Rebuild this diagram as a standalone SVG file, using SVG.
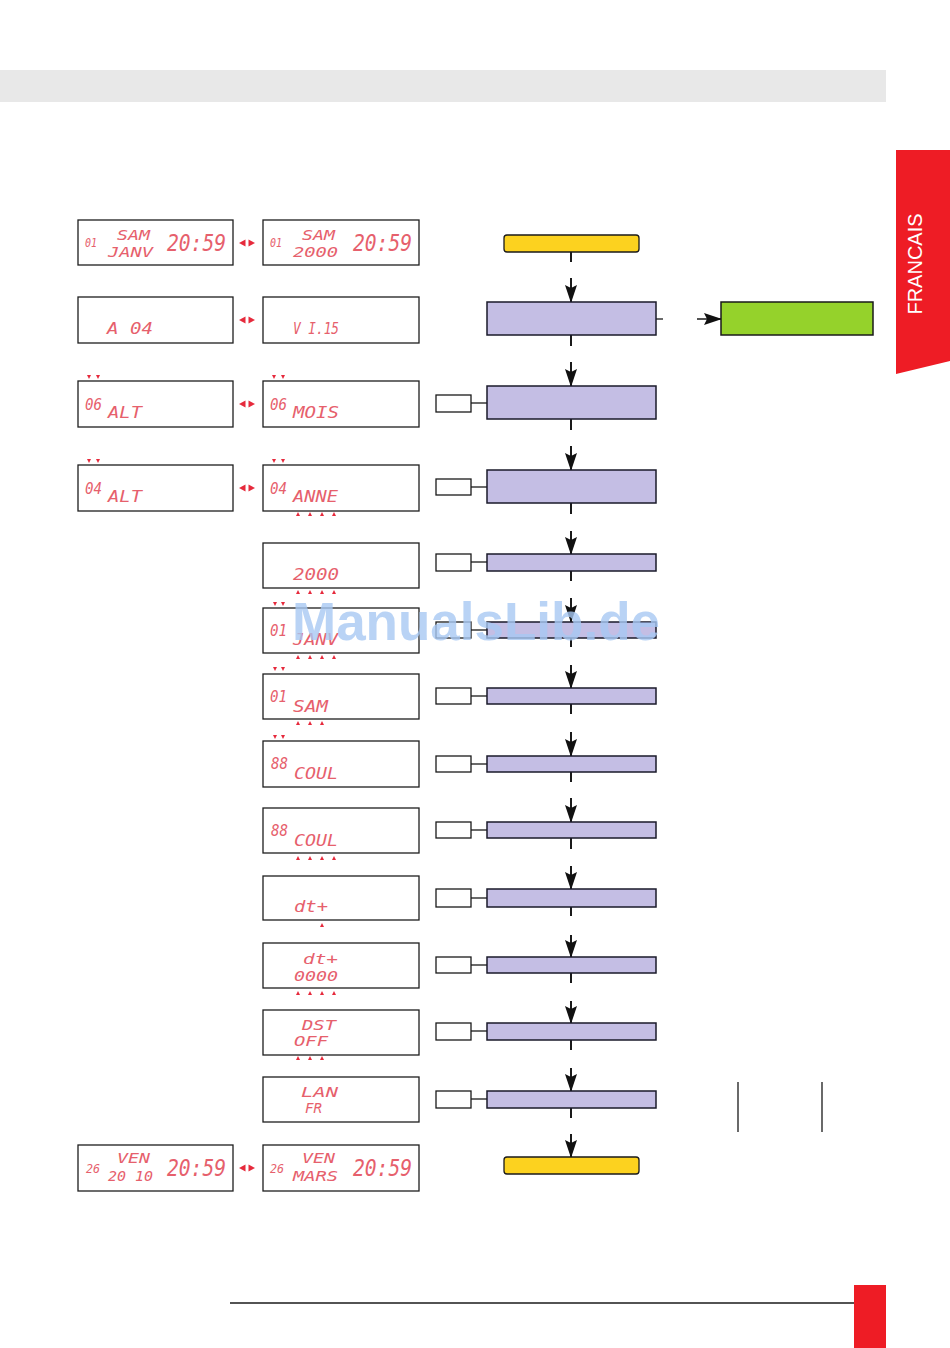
<svg xmlns="http://www.w3.org/2000/svg" xmlns:xlink="http://www.w3.org/1999/xlink" width="950" height="1348" viewBox="0 0 950 1348">
<style>
.disp{fill:#fff;stroke:#1e1e1e;stroke-width:1.3}
.led{font-family:"DejaVu Sans Mono","Liberation Mono",monospace;font-style:italic;fill:#e6606c;font-size:16px}
.two{font-size:14px}
.big{font-size:23px}
.sm{font-size:12px}
.proc{fill:#c4bee4;stroke:#1a1a2a;stroke-width:1.5}
.term{fill:#fcd21f;stroke:#1a1a1a;stroke-width:1.3}
.side{fill:#fff;stroke:#1a1a1a;stroke-width:1.3}
.conn{stroke:#1a1a1a;stroke-width:2;fill:none}
.thin{stroke:#1a1a1a;stroke-width:1.3;fill:none}
.tri{fill:#e62a3c}
</style>
<defs>
<marker id="ah" viewBox="0 0 18 12" refX="17" refY="6" markerWidth="18" markerHeight="12" markerUnits="userSpaceOnUse" orient="auto">
<path d="M0,0 L18,6 L0,12 L3,6 z" fill="#111"/>
</marker>
<path id="td" class="tri" d="M-2,-2 L2,-2 L0,2 z"/>
<path id="tu" class="tri" d="M-2,2 L2,2 L0,-2 z"/>
<g id="lr" class="tri"><path d="M-8,0 L-1.5,-3.5 L-1.5,3.5 z"/><path d="M1.5,-3.5 L8,0 L1.5,3.5 z"/></g>
</defs>

<rect x="0" y="70" width="886" height="32" fill="#e8e8e8"/>
<g id="tab">
<polygon points="896,150 950,150 950,361 896,374" fill="#ee1c25"/>
<text x="922" y="264" transform="rotate(-90 922 264)" text-anchor="middle" font-family="Liberation Sans, Arial, sans-serif" font-size="20" fill="#fff">FRANCAIS</text>
</g>
<line x1="230" y1="1303" x2="854" y2="1303" stroke="#1a1a1a" stroke-width="1.3"/>
<rect x="854" y="1285" width="32" height="63" fill="#ee1c25"/>

<!-- displays -->
<g id="d1a"><rect class="disp" x="78" y="220" width="155" height="45"/>
<text class="led sm" x="85" y="247" textLength="12" lengthAdjust="spacingAndGlyphs">01</text>
<text class="led two" x="117" y="240" textLength="33" lengthAdjust="spacingAndGlyphs">SAM</text>
<text class="led two" x="108" y="257" textLength="45" lengthAdjust="spacingAndGlyphs">JANV</text>
<text class="led big" x="167" y="251" textLength="59" lengthAdjust="spacingAndGlyphs">20:59</text></g>
<g id="d1b"><rect class="disp" x="263" y="220" width="156" height="45"/>
<text class="led sm" x="270" y="247" textLength="12" lengthAdjust="spacingAndGlyphs">01</text>
<text class="led two" x="302" y="240" textLength="33" lengthAdjust="spacingAndGlyphs">SAM</text>
<text class="led two" x="293" y="257" textLength="45" lengthAdjust="spacingAndGlyphs">2000</text>
<text class="led big" x="353" y="251" textLength="59" lengthAdjust="spacingAndGlyphs">20:59</text></g>
<use href="#lr" x="247" y="243"/>

<g id="d2a"><rect class="disp" x="78" y="297" width="155" height="46"/>
<text class="led" x="107" y="334" textLength="46" lengthAdjust="spacingAndGlyphs">A 04</text></g>
<g id="d2b"><rect class="disp" x="263" y="297" width="156" height="46"/>
<text class="led" x="293" y="334" textLength="46" lengthAdjust="spacingAndGlyphs">V I.15</text></g>
<use href="#lr" x="247" y="320"/>

<g id="d3a"><rect class="disp" x="78" y="381" width="155" height="46"/>
<use href="#td" x="89" y="377"/><use href="#td" x="98" y="377"/>
<text class="led" x="85" y="410" textLength="17" lengthAdjust="spacingAndGlyphs">06</text>
<text class="led" x="108" y="418" textLength="34" lengthAdjust="spacingAndGlyphs">ALT</text></g>
<g id="d3b"><rect class="disp" x="263" y="381" width="156" height="46"/>
<use href="#td" x="274" y="377"/><use href="#td" x="283" y="377"/>
<text class="led" x="270" y="410" textLength="17" lengthAdjust="spacingAndGlyphs">06</text>
<text class="led" x="293" y="418" textLength="46" lengthAdjust="spacingAndGlyphs">MOIS</text></g>
<use href="#lr" x="247" y="404"/>

<g id="d4a"><rect class="disp" x="78" y="465" width="155" height="46"/>
<use href="#td" x="89" y="461"/><use href="#td" x="98" y="461"/>
<text class="led" x="85" y="494" textLength="17" lengthAdjust="spacingAndGlyphs">04</text>
<text class="led" x="108" y="502" textLength="34" lengthAdjust="spacingAndGlyphs">ALT</text></g>
<g id="d4b"><rect class="disp" x="263" y="465" width="156" height="46"/>
<use href="#td" x="274" y="461"/><use href="#td" x="283" y="461"/>
<text class="led" x="270" y="494" textLength="17" lengthAdjust="spacingAndGlyphs">04</text>
<text class="led" x="293" y="502" textLength="45" lengthAdjust="spacingAndGlyphs">ANNE</text>
<use href="#tu" x="298" y="514"/><use href="#tu" x="310" y="514"/><use href="#tu" x="322" y="514"/><use href="#tu" x="334" y="514"/></g>
<use href="#lr" x="247" y="488"/>

<g id="d5"><rect class="disp" x="263" y="543" width="156" height="45"/>
<text class="led" x="293" y="580" textLength="46" lengthAdjust="spacingAndGlyphs">2000</text>
<use href="#tu" x="298" y="592"/><use href="#tu" x="310" y="592"/><use href="#tu" x="322" y="592"/><use href="#tu" x="334" y="592"/></g>

<g id="d6"><rect class="disp" x="263" y="608" width="156" height="45"/>
<use href="#td" x="275" y="604"/><use href="#td" x="283" y="604"/>
<text class="led" x="270" y="636" textLength="17" lengthAdjust="spacingAndGlyphs">01</text>
<text class="led" x="293" y="645" textLength="45" lengthAdjust="spacingAndGlyphs">JANV</text>
<use href="#tu" x="298" y="657"/><use href="#tu" x="310" y="657"/><use href="#tu" x="322" y="657"/><use href="#tu" x="334" y="657"/></g>

<g id="d7"><rect class="disp" x="263" y="674" width="156" height="45"/>
<use href="#td" x="275" y="669"/><use href="#td" x="283" y="669"/>
<text class="led" x="270" y="702" textLength="17" lengthAdjust="spacingAndGlyphs">01</text>
<text class="led" x="293" y="712" textLength="35" lengthAdjust="spacingAndGlyphs">SAM</text>
<use href="#tu" x="298" y="723"/><use href="#tu" x="310" y="723"/><use href="#tu" x="322" y="723"/></g>

<g id="d8"><rect class="disp" x="263" y="741" width="156" height="46"/>
<use href="#td" x="275" y="737"/><use href="#td" x="283" y="737"/>
<text class="led" x="271" y="769" textLength="17" lengthAdjust="spacingAndGlyphs">88</text>
<text class="led" x="294" y="779" textLength="44" lengthAdjust="spacingAndGlyphs">COUL</text></g>

<g id="d9"><rect class="disp" x="263" y="808" width="156" height="45"/>
<text class="led" x="271" y="836" textLength="17" lengthAdjust="spacingAndGlyphs">88</text>
<text class="led" x="294" y="846" textLength="44" lengthAdjust="spacingAndGlyphs">COUL</text>
<use href="#tu" x="298" y="858"/><use href="#tu" x="310" y="858"/><use href="#tu" x="322" y="858"/><use href="#tu" x="334" y="858"/></g>

<g id="d10"><rect class="disp" x="263" y="876" width="156" height="44"/>
<text class="led" x="294" y="912" textLength="34" lengthAdjust="spacingAndGlyphs">dt+</text>
<use href="#tu" x="322" y="925"/></g>

<g id="d11"><rect class="disp" x="263" y="943" width="156" height="45"/>
<text class="led two" x="303" y="964" textLength="35" lengthAdjust="spacingAndGlyphs">dt+</text>
<text class="led two" x="294" y="981" textLength="44" lengthAdjust="spacingAndGlyphs">0000</text>
<use href="#tu" x="298" y="993"/><use href="#tu" x="310" y="993"/><use href="#tu" x="322" y="993"/><use href="#tu" x="334" y="993"/></g>

<g id="d12"><rect class="disp" x="263" y="1010" width="156" height="45"/>
<text class="led two" x="302" y="1030" textLength="34" lengthAdjust="spacingAndGlyphs">DST</text>
<text class="led two" x="294" y="1046" textLength="34" lengthAdjust="spacingAndGlyphs">OFF</text>
<use href="#tu" x="298" y="1058"/><use href="#tu" x="310" y="1058"/><use href="#tu" x="322" y="1058"/></g>

<g id="d13"><rect class="disp" x="263" y="1077" width="156" height="45"/>
<text class="led two" x="301" y="1097" textLength="37" lengthAdjust="spacingAndGlyphs">LAN</text>
<text class="led two" x="305" y="1113" textLength="17" lengthAdjust="spacingAndGlyphs">FR</text></g>

<g id="d14a"><rect class="disp" x="78" y="1145" width="155" height="46"/>
<text class="led sm" x="86" y="1173" textLength="14" lengthAdjust="spacingAndGlyphs">26</text>
<text class="led two" x="117" y="1163" textLength="33" lengthAdjust="spacingAndGlyphs">VEN</text>
<text class="led two" x="108" y="1181" textLength="45" lengthAdjust="spacingAndGlyphs">20 10</text>
<text class="led big" x="167" y="1176" textLength="59" lengthAdjust="spacingAndGlyphs">20:59</text></g>
<g id="d14b"><rect class="disp" x="263" y="1145" width="156" height="46"/>
<text class="led sm" x="270" y="1173" textLength="14" lengthAdjust="spacingAndGlyphs">26</text>
<text class="led two" x="302" y="1163" textLength="33" lengthAdjust="spacingAndGlyphs">VEN</text>
<text class="led two" x="293" y="1181" textLength="45" lengthAdjust="spacingAndGlyphs">MARS</text>
<text class="led big" x="353" y="1176" textLength="59" lengthAdjust="spacingAndGlyphs">20:59</text></g>
<use href="#lr" x="247" y="1168"/>

<!-- connectors -->
<g id="connectors">
<path class="conn" d="M571,252 V262"/><path class="conn" d="M571,278 V302" marker-end="url(#ah)"/>
<path class="conn" d="M571,335 V346"/><path class="conn" d="M571,362 V386" marker-end="url(#ah)"/>
<path class="conn" d="M571,419 V430"/><path class="conn" d="M571,446 V470" marker-end="url(#ah)"/>
<path class="conn" d="M571,503 V514"/><path class="conn" d="M571,531 V554" marker-end="url(#ah)"/>
<path class="conn" d="M571,571 V581"/><path class="conn" d="M571,598 V622" marker-end="url(#ah)"/>
<path class="conn" d="M571,638 V647"/><path class="conn" d="M571,665 V688" marker-end="url(#ah)"/>
<path class="conn" d="M571,704 V714"/><path class="conn" d="M571,732 V756" marker-end="url(#ah)"/>
<path class="conn" d="M571,772 V782"/><path class="conn" d="M571,798 V822" marker-end="url(#ah)"/>
<path class="conn" d="M571,838 V849"/><path class="conn" d="M571,866 V889" marker-end="url(#ah)"/>
<path class="conn" d="M571,907 V916"/><path class="conn" d="M571,935 V957" marker-end="url(#ah)"/>
<path class="conn" d="M571,973 V983"/><path class="conn" d="M571,1001 V1023" marker-end="url(#ah)"/>
<path class="conn" d="M571,1040 V1050"/><path class="conn" d="M571,1068 V1091" marker-end="url(#ah)"/>
<path class="conn" d="M571,1108 V1118"/><path class="conn" d="M571,1134 V1157" marker-end="url(#ah)"/>
<path class="thin" d="M656,319 H663"/><path class="conn" d="M697,319 H721" marker-end="url(#ah)" style="stroke-width:1.5"/>
<path class="thin" d="M471,403 H487"/>
<path class="thin" d="M471,487 H487"/>
<path class="thin" d="M471,562 H487"/>
<path class="thin" d="M471,630 H487"/>
<path class="thin" d="M471,696 H487"/>
<path class="thin" d="M471,764 H487"/>
<path class="thin" d="M471,830 H487"/>
<path class="thin" d="M471,898 H487"/>
<path class="thin" d="M471,965 H487"/>
<path class="thin" d="M471,1031 H487"/>
<path class="thin" d="M471,1099 H487"/>
</g>

<!-- flow nodes -->
<g id="start"><rect class="term" x="504" y="235" width="135" height="17" rx="3"/></g>
<g id="p1"><rect class="proc" x="487" y="302" width="169" height="33"/></g>
<g id="green"><rect x="721" y="302" width="152" height="33" fill="#95d22b" stroke="#1a1a1a" stroke-width="1.5"/></g>
<g id="p2"><rect class="proc" x="487" y="386" width="169" height="33"/><rect class="side" x="436" y="395" width="35" height="17"/></g>
<g id="p3"><rect class="proc" x="487" y="470" width="169" height="33"/><rect class="side" x="436" y="479" width="35" height="16"/></g>
<g id="p4"><rect class="proc" x="487" y="554" width="169" height="17"/><rect class="side" x="436" y="554" width="35" height="17"/></g>
<g id="p5"><rect class="proc" x="487" y="622" width="169" height="16"/><rect class="side" x="436" y="622" width="35" height="16"/></g>
<g id="p6"><rect class="proc" x="487" y="688" width="169" height="16"/><rect class="side" x="436" y="688" width="35" height="16"/></g>
<g id="p7"><rect class="proc" x="487" y="756" width="169" height="16"/><rect class="side" x="436" y="756" width="35" height="16"/></g>
<g id="p8"><rect class="proc" x="487" y="822" width="169" height="16"/><rect class="side" x="436" y="822" width="35" height="16"/></g>
<g id="p9"><rect class="proc" x="487" y="889" width="169" height="18"/><rect class="side" x="436" y="889" width="35" height="18"/></g>
<g id="p10"><rect class="proc" x="487" y="957" width="169" height="16"/><rect class="side" x="436" y="957" width="35" height="16"/></g>
<g id="p11"><rect class="proc" x="487" y="1023" width="169" height="17"/><rect class="side" x="436" y="1023" width="35" height="17"/></g>
<g id="p12"><rect class="proc" x="487" y="1091" width="169" height="17"/><rect class="side" x="436" y="1091" width="35" height="17"/></g>
<g id="end"><rect class="term" x="504" y="1157" width="135" height="17" rx="3"/></g>
<line x1="738" y1="1082" x2="738" y2="1132" stroke="#1a1a1a" stroke-width="1.3"/>
<line x1="822" y1="1082" x2="822" y2="1132" stroke="#1a1a1a" stroke-width="1.3"/>

<text x="292" y="640" textLength="368" lengthAdjust="spacingAndGlyphs" font-family="Liberation Sans, Arial, sans-serif" font-weight="bold" font-size="54" fill="#a8c8f2" fill-opacity="0.8">ManualsLib.de</text>
</svg>
